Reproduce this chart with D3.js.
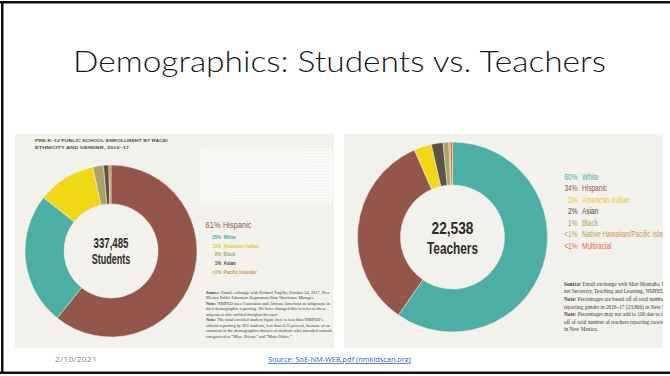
<!DOCTYPE html>
<html>
<head>
<meta charset="utf-8">
<script src="https://cdn.jsdelivr.net/npm/d3@7"></script>
<style>
  html, body { margin: 0; padding: 0; background: #ffffff; }
  svg { display: block; }
</style>
</head>
<body>
<svg id="slide" width="670" height="376"></svg>
<script>
// Pre-K–12 enrollment by race/ethnicity, 2016–17
const studentCategories = ["Hispanic", "White", "American Indian", "Black", "Asian", "Pacific Islander"];
const studentValues = [61, 25, 11, 2, 1, 0.4];
const studentLabels = ["61%", "25%", "11%", "2%", "1%", "<1%"];
const studentTotal = "337,485";

// Teachers by race/ethnicity
const teacherCategories = ["White", "Hispanic", "American Indian", "Asian", "Black", "Native Hawaiian/Pacific Islander", "Multiracial"];
const teacherValues = [60, 34, 3, 2, 1, 0.2, 0.4];
const teacherLabels = ["60%", "34%", "3%", "2%", "1%", "<1%", "<1%"];
const teacherTotal = "22,538";

const colorScale = d3.scaleOrdinal()
  .domain(["Hispanic", "White", "American Indian", "Black", "Asian", "Pacific Islander", "Native Hawaiian/Pacific Islander", "Multiracial"])
  .range(["#93564b", "#4daea3", "#f0d816", "#a8a466", "#5d5447", "#c98a4b", "#c98a4b", "#e0694a"]);
const textColor = d3.scaleOrdinal()
  .domain(["Hispanic", "White", "American Indian", "Black", "Asian", "Pacific Islander", "Native Hawaiian/Pacific Islander", "Multiracial"])
  .range(["#93564b", "#4daea3", "#e3cb10", "#a8a466", "#4f483e", "#c49a62", "#c49a62", "#e0694a"]);

const PANEL_BG = "#f2f1eb";
const sans = "'Liberation Sans', Arial, sans-serif";
const serif = "'Liberation Serif', 'DejaVu Serif', serif";

const svg = d3.select("#slide");
const defs = svg.append("defs");

// squeeze a sans text horizontally to a condensed width
function condense(sel, factor) {
  sel.each(function () {
    const w = this.getComputedTextLength();
    d3.select(this).attr("textLength", w * factor).attr("lengthAdjust", "spacingAndGlyphs");
  });
  return sel;
}

// slide frame
svg.append("rect").attr("x", 0).attr("y", 0).attr("width", 670).attr("height", 376).attr("fill", "#ffffff");
svg.append("rect").attr("x", 0).attr("y", 1).attr("width", 670).attr("height", 2.5).attr("fill", "#111");
svg.append("rect").attr("x", 1).attr("y", 1).attr("width", 2.5).attr("height", 373).attr("fill", "#111");
svg.append("rect").attr("x", 0).attr("y", 371.5).attr("width", 670).attr("height", 2.5).attr("fill", "#111");

// title
svg.append("text")
  .attr("x", 73).attr("y", 71.5)
  .attr("textLength", 533).attr("lengthAdjust", "spacingAndGlyphs")
  .style("font-family", "Lato, 'Open Sans', sans-serif")
  .style("font-weight", 300)
  .style("font-size", "29.5px")
  .attr("fill", "#1a1a1a")
  .text("Demographics: Students vs. Teachers");

function panel(id, x, y, w, h) {
  defs.append("clipPath").attr("id", id).append("rect")
    .attr("x", x).attr("y", y).attr("width", w).attr("height", h);
  const g = svg.append("g").attr("clip-path", `url(#${id})`);
  g.append("rect").attr("x", x).attr("y", y).attr("width", w).attr("height", h).attr("fill", PANEL_BG);
  return g;
}

function donut(g, cats, vals, cx, cy, r0, r1) {
  const pie = d3.pie().sort(null).value((d, i) => vals[i]);
  const arc = d3.arc().innerRadius(r0).outerRadius(r1);
  g.append("g").attr("transform", `translate(${cx},${cy})`)
    .selectAll("path")
    .data(pie(cats))
    .join("path")
    .attr("d", arc)
    .attr("fill", d => colorScale(d.data))
    .attr("stroke", PANEL_BG)
    .attr("stroke-width", 0.5);
}

function centerLabel(g, cx, lines) {
  lines.forEach(l => {
    g.append("text")
      .attr("x", cx).attr("y", l.y)
      .attr("text-anchor", "middle")
      .attr("textLength", l.w).attr("lengthAdjust", "spacingAndGlyphs")
      .style("font-family", sans)
      .style("font-weight", "bold")
      .style("font-size", l.size + "px")
      .attr("fill", "#2d2b28")
      .text(l.t);
  });
}

function legendRow(g, xPct, xName, y, size, weight, pct, name, color, factor) {
  condense(g.append("text").attr("x", xPct).attr("y", y).attr("text-anchor", "end")
    .style("font-family", sans).style("font-size", size + "px").style("font-weight", weight)
    .attr("fill", color).text(pct), factor);
  condense(g.append("text").attr("x", xName).attr("y", y)
    .style("font-family", sans).style("font-size", size + "px").style("font-weight", weight)
    .attr("fill", color).text(name), factor);
}

function notes(g, x, y0, step, size, lines) {
  lines.forEach((ln, i) => {
    const t = g.append("text").attr("x", x).attr("y", y0 + i * step)
      .style("font-family", serif).style("font-size", size + "px").attr("fill", "#3f3d3a");
    if (ln.b) t.append("tspan").style("font-weight", "bold").text(ln.b + " ");
    t.append("tspan").text(ln.t);
    if (ln.w) t.attr("textLength", ln.w).attr("lengthAdjust", "spacingAndGlyphs");
  });
}

// ---------- Students panel ----------
const left = panel("clipL", 15, 133.5, 319, 214.5);

left.append("text").attr("x", 35).attr("y", 141.8)
  .attr("textLength", 133).attr("lengthAdjust", "spacingAndGlyphs")
  .style("font-family", sans).style("font-weight", "bold")
  .style("font-size", "4.3px").attr("fill", "#55524d")
  .text("PRE-K–12 PUBLIC SCHOOL ENROLLMENT BY RACE/");
left.append("text").attr("x", 35).attr("y", 148.8)
  .attr("textLength", 94).attr("lengthAdjust", "spacingAndGlyphs")
  .style("font-family", sans).style("font-weight", "bold")
  .style("font-size", "4.3px").attr("fill", "#55524d")
  .text("ETHNICITY AND GENDER, 2016–17");

// pale paper patch
left.append("rect").attr("x", 200).attr("y", 148).attr("width", 133).attr("height", 55).attr("fill", "#f9f9f7");
d3.range(150, 202, 3).forEach(yy => {
  left.append("line").attr("x1", 201).attr("x2", 332).attr("y1", yy).attr("y2", yy + 0.5)
    .attr("stroke", "#ebebe8").attr("stroke-width", 0.6).attr("opacity", 0.7);
});

donut(left, studentCategories, studentValues, 111, 251, 47, 86);
centerLabel(left, 111, [
  { t: studentTotal, y: 247.5, size: 14.5, w: 35 },
  { t: "Students", y: 264, size: 14.5, w: 38.5 }
]);

// legend: lead row is larger
legendRow(left, 220.5, 223, 227.5, 9.3, "normal", studentLabels[0], studentCategories[0], textColor(studentCategories[0]), 0.8);
studentCategories.slice(1).forEach((c, i) => {
  legendRow(left, 221.3, 223.5, 239 + i * 8.7, 5.8, "bold", studentLabels[i + 1], c, textColor(c), 0.78);
});

notes(left, 206, 293.6, 5.5, 4.2, [
  { b: "Source:", t: "Email exchange with Richard Trujillo, October 24, 2017, New", w: 124 },
  { t: "Mexico Public Education Department Data Warehouse Manager.", w: 108 },
  { b: "Note:", t: "NMPED uses Caucasian and African American as subgroups in", w: 124 },
  { t: "their demographic reporting. We have changed this to refer to these", w: 120 },
  { t: "subgroups as white and black throughout this report.", w: 72 },
  { b: "Note:", t: "The total enrolled student figure here is less than NMPED’s", w: 117 },
  { t: "official reporting by 822 students, less than 0.25 percent, because of an", w: 124 },
  { t: "omission in the demographics dataset of students who attended schools", w: 126 },
  { t: "categorized as “Misc. Private” and “Main Office.”", w: 86 }
]);

// ---------- Teachers panel ----------
const right = panel("clipR", 344, 133.5, 319, 214.5);

donut(right, teacherCategories, teacherValues, 452.5, 237, 52, 95);
centerLabel(right, 452.5, [
  { t: teacherTotal, y: 233.5, size: 17, w: 42 },
  { t: "Teachers", y: 254, size: 17, w: 51 }
]);

teacherCategories.forEach((c, i) => {
  legendRow(right, 577.5, 582, 180 + i * 11.45, 8.2, "normal", teacherLabels[i], c, textColor(c), 0.8);
});

notes(right, 564, 285.8, 7.6, 5.3, [
  { b: "Source:", t: "Email exchange with Matt Montaño, Deputy Cabi-" },
  { t: "net Secretary, Teaching and Learning, NMPED." },
  { b: "Note:", t: "Percentages are based off of total number of teachers" },
  { t: "reporting gender in 2016–17 (23,806) in New Mexico." },
  { b: "Note:", t: "Percentages may not add to 100 due to rounding" },
  { t: "off of total number of teachers reporting race/ethnicity" },
  { t: "in New Mexico." }
]);

// ---------- footer ----------
svg.append("text").attr("x", 55).attr("y", 362)
  .attr("textLength", 42).attr("lengthAdjust", "spacingAndGlyphs")
  .style("font-family", "'Open Sans', 'Liberation Sans', sans-serif").style("font-size", "7.5px")
  .attr("fill", "#8a8a8a").text("2/10/2021");
svg.append("text").attr("x", 268).attr("y", 362)
  .attr("textLength", 143).attr("lengthAdjust", "spacingAndGlyphs")
  .style("font-family", "'Open Sans', 'Liberation Sans', sans-serif").style("font-size", "7.5px")
  .style("text-decoration", "underline")
  .attr("fill", "#1f5fbf").text("Source: SoE-NM-WEB.pdf (nmkidscan.org)");
</script>
</body>
</html>
